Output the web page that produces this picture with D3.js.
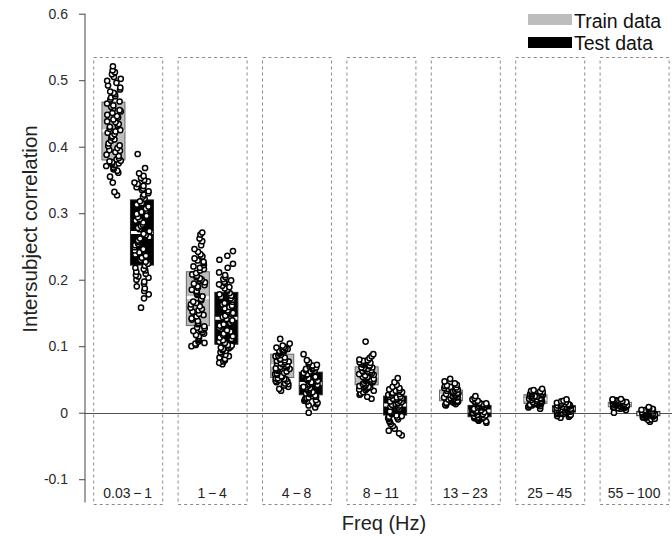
<!DOCTYPE html>
<html><head><meta charset="utf-8">
<script src="https://cdn.jsdelivr.net/npm/d3@7"></script>
<style>
html,body{margin:0;padding:0;background:#fff;}
svg{display:block;font-family:"Liberation Sans",Arial,sans-serif;}
</style></head>
<body>
<svg id="chart" width="672" height="541"></svg>
<script>
// ---- data ----
const categories = ["0.03\u2009\u2212\u20091","1\u2009\u2212\u20094","4\u2009\u2212\u20098","8\u2009\u2212\u200911","13\u2009\u2212\u200923","25\u2009\u2212\u200945","55\u2009\u2212\u2009100"];
const yTicks = [-0.1, 0, 0.1, 0.2, 0.3, 0.4, 0.5, 0.6];
const yTickLabels = ["-0.1","0","0.1","0.2","0.3","0.4","0.5","0.6"];
const seriesNames = ["Train data","Test data"];

const trainQ1  = [0.380, 0.131, 0.053, 0.042, 0.018, 0.014, 0.009];
const trainMed = [0.424, 0.173, 0.071, 0.055, 0.026, 0.020, 0.0126];
const trainQ3  = [0.467, 0.212, 0.088, 0.069, 0.034, 0.027, 0.0156];
const testQ1   = [0.222, 0.103, 0.027, -0.0035, -0.006, 0.001, -0.0045];
const testMed  = [0.271, 0.142, 0.044, 0.0116, 0.0026, 0.0055, -0.0015];
const testQ3   = [0.320, 0.181, 0.061, 0.025, 0.011, 0.0105, 0.002];

const trainPoints = [
 [0.327,0.332,0.346,0.355,0.361,0.364,0.366,0.368,0.369,0.371,0.372,0.373,0.374,0.375,0.376,0.377,0.378,0.379,
  0.381,0.383,0.386,0.388,0.392,0.394,0.395,0.398,0.401,0.402,0.405,0.409,0.411,0.414,0.416,0.419,0.421,0.423,
  0.425,0.427,0.430,0.432,0.434,0.437,0.438,0.441,0.444,0.446,0.448,0.451,0.453,0.455,0.458,0.460,0.462,0.465,
  0.468,0.471,0.474,0.476,0.479,0.481,0.483,0.486,0.489,0.492,0.496,0.499,0.502,0.505,0.509,0.512,0.515,0.521],
 [0.100,0.102,0.104,0.105,0.107,0.109,0.111,0.113,0.115,0.117,0.119,0.121,0.123,0.124,0.126,0.127,0.128,0.130,
  0.133,0.135,0.138,0.140,0.142,0.145,0.147,0.149,0.152,0.154,0.156,0.158,0.160,0.163,0.165,0.167,0.169,0.171,
  0.175,0.177,0.179,0.181,0.183,0.185,0.188,0.190,0.192,0.194,0.196,0.198,0.200,0.202,0.204,0.206,0.208,0.210,
  0.214,0.216,0.218,0.220,0.222,0.225,0.227,0.229,0.232,0.235,0.238,0.242,0.246,0.252,0.258,0.262,0.268,0.271],
 [0.033,0.036,0.039,0.041,0.043,0.044,0.046,0.047,0.048,0.049,0.050,0.051,0.051,0.052,0.052,
  0.054,0.055,0.057,0.058,0.059,0.060,0.062,0.063,0.064,0.065,0.066,0.067,0.068,0.069,0.070,
  0.072,0.073,0.074,0.075,0.076,0.077,0.078,0.079,0.080,0.081,0.083,0.084,0.085,0.086,0.087,
  0.089,0.090,0.091,0.092,0.093,0.094,0.094,0.095,0.096,0.097,0.098,0.099,0.101,0.104,0.111],
 [0.021,0.024,0.027,0.029,0.031,0.033,0.034,0.035,0.036,0.037,0.038,0.039,0.040,0.041,0.041,
  0.043,0.044,0.045,0.046,0.047,0.048,0.048,0.049,0.050,0.051,0.051,0.052,0.053,0.054,0.054,
  0.056,0.057,0.058,0.059,0.060,0.061,0.062,0.062,0.063,0.064,0.065,0.066,0.067,0.068,0.068,
  0.070,0.071,0.072,0.073,0.074,0.075,0.076,0.077,0.078,0.079,0.080,0.082,0.085,0.088,0.107],
 [0.011,0.012,0.013,0.014,0.015,0.015,0.016,0.016,0.017,0.017,0.017,0.018,
  0.019,0.020,0.021,0.021,0.022,0.023,0.023,0.024,0.024,0.025,0.025,0.026,
  0.027,0.027,0.028,0.028,0.029,0.030,0.030,0.031,0.032,0.032,0.033,0.033,
  0.035,0.035,0.036,0.037,0.038,0.039,0.040,0.041,0.042,0.044,0.047,0.051],
 [0.006,0.008,0.009,0.010,0.011,0.011,0.012,0.012,0.013,0.013,0.013,0.014,
  0.014,0.015,0.015,0.016,0.016,0.017,0.017,0.018,0.018,0.019,0.019,0.020,
  0.021,0.021,0.022,0.022,0.023,0.023,0.024,0.024,0.025,0.025,0.026,0.026,
  0.027,0.028,0.028,0.029,0.029,0.030,0.031,0.031,0.032,0.033,0.034,0.036],
 [0.000,0.004,0.006,0.007,0.007,0.008,0.008,0.0085,0.0085,0.009,0.009,0.009,
  0.0095,0.010,0.010,0.0105,0.011,0.011,0.0115,0.0115,0.012,0.012,0.0125,0.0125,
  0.013,0.013,0.0135,0.0135,0.014,0.014,0.0145,0.0145,0.015,0.015,0.0155,0.0155,
  0.016,0.016,0.0165,0.017,0.017,0.0175,0.018,0.0185,0.019,0.0195,0.020,0.0206]
];

const testPoints = [
 [0.158,0.172,0.178,0.183,0.187,0.190,0.194,0.197,0.200,0.203,0.205,0.207,0.209,0.212,0.214,0.216,0.218,0.221,
  0.224,0.227,0.230,0.233,0.236,0.238,0.241,0.244,0.246,0.249,0.252,0.254,0.257,0.259,0.262,0.264,0.267,0.269,
  0.273,0.276,0.278,0.281,0.283,0.286,0.289,0.291,0.294,0.296,0.299,0.302,0.304,0.307,0.310,0.313,0.315,0.318,
  0.322,0.325,0.328,0.330,0.333,0.335,0.337,0.339,0.341,0.344,0.346,0.348,0.350,0.353,0.356,0.360,0.368,0.389],
 [0.073,0.075,0.077,0.079,0.081,0.083,0.085,0.087,0.089,0.091,0.093,0.094,0.096,0.097,0.098,0.099,0.101,0.102,
  0.105,0.107,0.109,0.111,0.113,0.115,0.117,0.119,0.122,0.124,0.126,0.128,0.131,0.133,0.135,0.137,0.139,0.141,
  0.144,0.146,0.148,0.150,0.152,0.154,0.157,0.159,0.161,0.163,0.165,0.167,0.170,0.172,0.174,0.176,0.178,0.180,
  0.183,0.185,0.187,0.189,0.191,0.193,0.195,0.197,0.199,0.201,0.204,0.207,0.211,0.218,0.224,0.230,0.236,0.243],
 [0.000,0.008,0.011,0.013,0.015,0.017,0.018,0.019,0.020,0.021,0.022,0.023,0.024,0.025,0.026,
  0.028,0.029,0.030,0.031,0.032,0.034,0.035,0.036,0.037,0.038,0.039,0.040,0.041,0.042,0.043,
  0.045,0.046,0.047,0.048,0.049,0.050,0.051,0.052,0.053,0.054,0.055,0.056,0.057,0.058,0.060,
  0.062,0.063,0.064,0.065,0.066,0.067,0.068,0.069,0.070,0.071,0.072,0.074,0.076,0.079,0.088],
 [-0.034,-0.031,-0.027,-0.024,-0.020,-0.017,-0.014,-0.012,-0.010,-0.009,-0.008,-0.007,-0.006,-0.005,-0.004,
  -0.002,-0.001,0.000,0.001,0.002,0.003,0.004,0.005,0.006,0.007,0.008,0.009,0.010,0.011,0.011,
  0.012,0.013,0.014,0.015,0.016,0.017,0.018,0.019,0.020,0.021,0.021,0.022,0.023,0.024,0.024,
  0.026,0.027,0.028,0.029,0.030,0.031,0.032,0.033,0.034,0.035,0.037,0.039,0.042,0.046,0.052],
 [-0.015,-0.013,-0.012,-0.011,-0.010,-0.009,-0.009,-0.008,-0.008,-0.007,-0.007,-0.006,
  -0.005,-0.004,-0.004,-0.003,-0.002,-0.002,-0.001,0.000,0.000,0.001,0.001,0.002,
  0.003,0.004,0.004,0.005,0.006,0.006,0.007,0.008,0.008,0.009,0.010,0.010,
  0.011,0.012,0.013,0.013,0.014,0.015,0.016,0.017,0.018,0.020,0.022,0.025],
 [-0.0075,-0.006,-0.005,-0.004,-0.003,-0.002,-0.002,-0.001,-0.001,0.000,0.000,0.001,
  0.0015,0.002,0.002,0.003,0.003,0.0035,0.004,0.004,0.0045,0.005,0.005,0.0055,
  0.006,0.006,0.0065,0.007,0.007,0.0075,0.008,0.008,0.009,0.009,0.010,0.010,
  0.011,0.011,0.012,0.012,0.013,0.013,0.014,0.015,0.016,0.017,0.018,0.020],
 [-0.0135,-0.011,-0.010,-0.009,-0.008,-0.007,-0.0065,-0.006,-0.0055,-0.005,-0.005,-0.0045,
  -0.004,-0.004,-0.0035,-0.0035,-0.003,-0.003,-0.0025,-0.0025,-0.002,-0.002,-0.0015,-0.0015,
  -0.001,-0.001,-0.0005,-0.0005,0.000,0.000,0.0005,0.0005,0.001,0.001,0.0015,0.0015,
  0.002,0.0025,0.003,0.003,0.0035,0.004,0.0045,0.005,0.0055,0.006,0.007,0.0086]
];

// ---- layout ----
const W = 672, H = 541;
const svg = d3.select("#chart");
const x = d3.scaleBand().domain(categories).range([85.5, 676.3]).paddingInner(0).paddingOuter(0);
const y = d3.scaleLinear().domain([-0.135, 0.6]).range([502.5, 13.7]);
const axisX = 85;
const panelW = 69, boxW = 23, offset = 14.25, jitter = 7.5;
const panelTop = 57.5, panelBottom = 504.5;

// deterministic jitter (layout only, scatters points horizontally inside the box)
function jit(j, i, s) {
  const v = Math.sin((j + 1) * 12.9898 + (i + 1) * 78.233 + s * 37.719) * 43758.5453;
  return (v - Math.floor(v)) - 0.5;
}

// dashed panels
svg.append("g").selectAll("rect").data(categories).join("rect")
  .attr("x", d => x(d) + x.bandwidth()/2 - panelW/2 + 0.5)
  .attr("y", panelTop)
  .attr("width", panelW)
  .attr("height", panelBottom - panelTop)
  .attr("fill", "none")
  .attr("stroke", "#8a8a8a")
  .attr("stroke-width", 1)
  .attr("stroke-dasharray", "3,3");

// zero line
svg.append("line")
  .attr("x1", axisX).attr("x2", W)
  .attr("y1", Math.round(y(0)) + 0.5).attr("y2", Math.round(y(0)) + 0.5)
  .attr("stroke", "#555").attr("stroke-width", 1);

// y axis
const yAxis = d3.axisLeft(y).tickValues(yTicks).tickSize(6).tickPadding(11)
  .tickFormat((d, i) => yTickLabels[i]);
const gy = svg.append("g").attr("transform", `translate(${axisX},0)`).call(yAxis);
gy.select(".domain").attr("stroke", "#444").attr("d", `M-0,${y(0.6)}V${y(-0.135)}`);
gy.selectAll(".tick line").attr("stroke", "#444");
gy.selectAll(".tick text").attr("fill", "#2a2a2a").attr("font-size", 14)
  .attr("font-family", '"Liberation Sans",Arial,sans-serif');

// boxes
function drawGroup(q1, med, q3, pts, dx, fill, stroke, s) {
  const g = svg.append("g");
  g.selectAll("rect").data(categories).join("rect")
    .attr("x", (d) => x(d) + x.bandwidth()/2 + dx - boxW/2)
    .attr("y", (d, i) => y(q3[i]))
    .attr("width", boxW)
    .attr("height", (d, i) => y(q1[i]) - y(q3[i]))
    .attr("fill", fill).attr("stroke", stroke).attr("stroke-width", 1);
  g.selectAll("line").data(categories).join("line")
    .attr("x1", (d) => x(d) + x.bandwidth()/2 + dx - boxW/2 + 0.5)
    .attr("x2", (d) => x(d) + x.bandwidth()/2 + dx + boxW/2 - 0.5)
    .attr("y1", (d, i) => y(med[i])).attr("y2", (d, i) => y(med[i]))
    .attr("stroke", "#fff").attr("stroke-width", 3);
  categories.forEach((c, i) => {
    const cx = x(c) + x.bandwidth()/2 + dx;
    g.append("g").selectAll("circle").data(pts[i]).join("circle")
      .attr("cx", (v, j) => cx + jit(j, i, s) * 2 * jitter)
      .attr("cy", v => y(v))
      .attr("r", 2.6)
      .attr("fill", "#fff").attr("stroke", "#000").attr("stroke-width", 1.5);
  });
}
drawGroup(trainQ1, trainMed, trainQ3, trainPoints, -offset, "#bdbdbd", "#666", 0);
drawGroup(testQ1, testMed, testQ3, testPoints, offset, "#000", "#222", 1);

// category labels
svg.append("g").selectAll("text").data(categories).join("text")
  .attr("x", d => x(d) + x.bandwidth()/2)
  .attr("y", 498)
  .attr("text-anchor", "middle")
  .attr("font-size", 14)
  .attr("fill", "#222")
  .text(d => d);

// axis titles
svg.append("text").attr("x", 384).attr("y", 530).attr("text-anchor", "middle")
  .attr("font-size", 20).attr("fill", "#222").text("Freq (Hz)");
svg.append("text").attr("transform", "translate(37,229) rotate(-90)").attr("text-anchor", "middle")
  .attr("font-size", 20.5).attr("fill", "#222").text("Intersubject correlation");

// legend
const legendColors = ["#bdbdbd", "#000"];
const lg = svg.append("g");
seriesNames.forEach((s, i) => {
  lg.append("rect").attr("x", 528).attr("y", 14 + i * 23).attr("width", 44).attr("height", 11)
    .attr("fill", legendColors[i]);
  lg.append("text").attr("x", 574).attr("y", 28 + i * 21.5).attr("font-size", 19.5).attr("fill", "#111").text(s);
});
</script>
</body></html>
